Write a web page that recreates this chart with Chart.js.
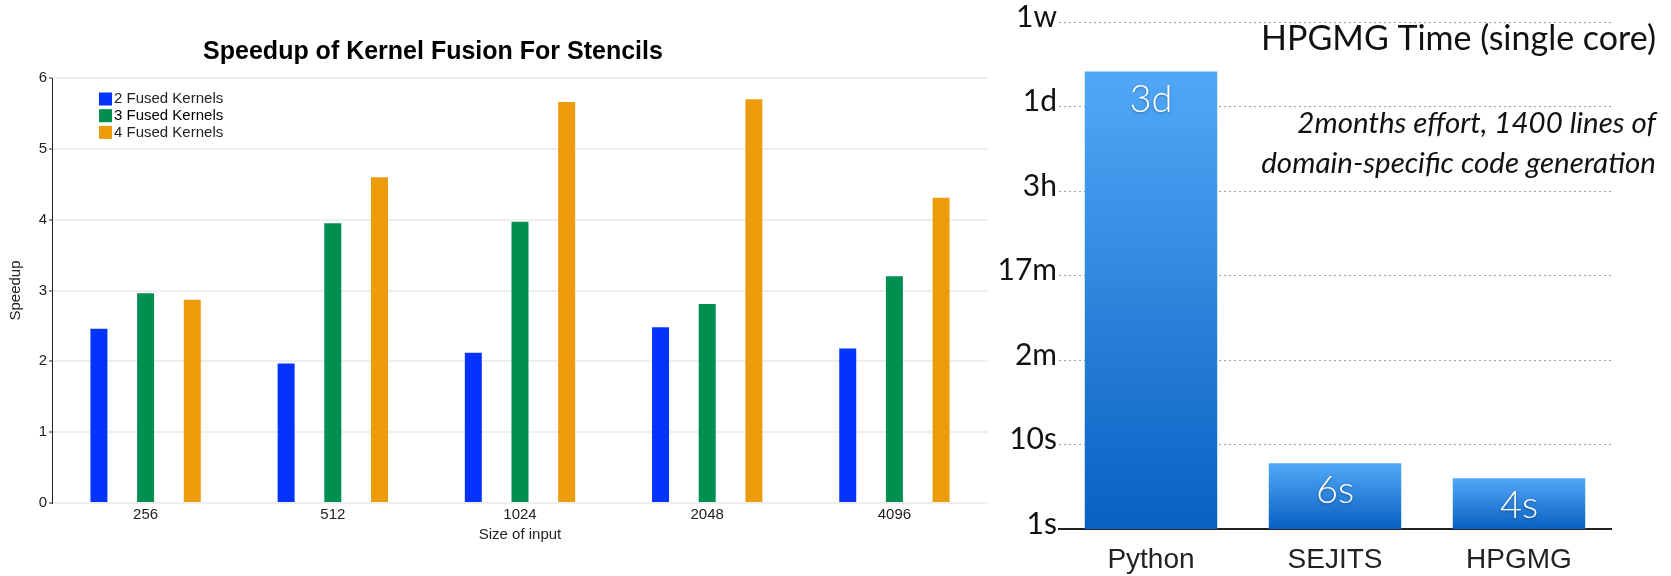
<!DOCTYPE html>
<html>
<head>
<meta charset="utf-8">
<script src="https://cdn.jsdelivr.net/npm/chart.js@4/dist/chart.umd.min.js"></script>
<style>
  body { margin: 0; width: 1671px; height: 576px; background: #fff; overflow: hidden; }
  #izq { position: absolute; left: 0; top: 0; }
  #der { position: absolute; left: 1000px; top: 0; }
</style>
</head>
<body>
<canvas id="izq" width="1000" height="576"></canvas>
<canvas id="der" width="671" height="576"></canvas>
<script>
// speedup por tamaño de entrada
const tamanos = ['256', '512', '1024', '2048', '4096'];
const fusion2 = [2.46, 1.97, 2.12, 2.48, 2.18];
const fusion3 = [2.96, 3.95, 3.97, 2.81, 3.20];
const fusion4 = [2.87, 4.60, 5.66, 5.70, 4.31];
const nombresSeries = ['2 Fused Kernels', '3 Fused Kernels', '4 Fused Kernels'];
const coloresSeries = ['#0433ff', '#008f51', '#ec9b0a'];

// tiempo HPGMG en segundos (escala log)
const implementaciones = ['Python', 'SEJITS', 'HPGMG'];
const segundos = [259200, 6, 4]; // 3d, 6s, 4s
const etiquetasValor = ['3d', '6s', '4s'];
const marcasSeg = [1, 10, 100, 1000, 10000, 100000, 1000000];
const marcasTexto = ['1s', '10s', '2m', '17m', '3h', '1d', '1w'];

const sans = '"Liberation Sans", Arial, sans-serif';
Chart.defaults.font.family = sans;

// titulo (no centrado en el canvas) y leyenda dentro del area del grafico
const leyendaDentro = {
  id: 'leyendaDentro',
  afterDatasetsDraw(chart) {
    const {ctx, chartArea} = chart;
    ctx.save();
    ctx.font = 'bold 25px ' + sans;
    ctx.textAlign = 'center';
    ctx.textBaseline = 'middle';
    ctx.fillStyle = '#000';
    ctx.fillText('Speedup of Kernel Fusion For Stencils', chartArea.left + 381, chartArea.top - 26);

    ctx.font = '15px ' + sans;
    ctx.textAlign = 'left';
    chart.data.datasets.forEach((ds, i) => {
      const x = chartArea.left + 47;
      const y = chartArea.top + 21 + i * 16.7;
      ctx.fillStyle = ds.backgroundColor;
      ctx.fillRect(x, y - 6.5, 13, 13);
      ctx.fillStyle = i === 1 ? '#000' : '#222';
      ctx.fillText(ds.label, x + 15, y);
    });
    ctx.restore();
  }
};

new Chart(document.getElementById('izq'), {
  type: 'bar',
  data: {
    labels: tamanos,
    datasets: [fusion2, fusion3, fusion4].map((d, i) => ({
      label: nombresSeries[i],
      data: d,
      backgroundColor: coloresSeries[i],
      categoryPercentage: 0.748,
      barPercentage: 0.364
    }))
  },
  options: {
    responsive: false,
    animation: false,
    layout: { padding: { top: 78, right: 12 } },
    plugins: {
      legend: { display: false },
      tooltip: { enabled: false }
    },
    scales: {
      x: {
        grid: { display: false, drawTicks: false },
        border: { display: false },
        ticks: { color: '#222', font: { size: 15 }, padding: 3 },
        title: { display: true, text: 'Size of input', color: '#222', font: { size: 15 }, padding: { top: 0, bottom: 32 } },
        afterFit: s => { s.height = 73; }
      },
      y: {
        min: 0,
        max: 6,
        ticks: { stepSize: 1, color: '#222', font: { size: 15 }, padding: 2 },
        grid: { color: '#eeeeee', lineWidth: 2, tickColor: '#222', tickLength: 3, tickWidth: 1 },
        border: { color: '#222', width: 1 },
        title: { display: true, text: 'Speedup', color: '#222', font: { size: 15 }, padding: { top: 7 } },
        afterFit: s => { s.width = 52; }
      }
    }
  },
  plugins: [leyendaDentro]
});

// degradado vertical por barra
function degradado(c) {
  const chart = c.chart;
  const area = chart.chartArea;
  if (!area || c.raw == null) return '#3b8fe8';
  const y = chart.scales.y.getPixelForValue(c.raw);
  const g = chart.ctx.createLinearGradient(0, y, 0, area.bottom);
  g.addColorStop(0, '#52a8f7');
  g.addColorStop(1, '#0860c2');
  return g;
}

// etiquetas de valor y textos del grafico de tiempos
const textosTiempo = {
  id: 'textosTiempo',
  afterDatasetsDraw(chart) {
    const {ctx, chartArea} = chart;
    const meta = chart.getDatasetMeta(0);
    ctx.save();
    ctx.font = '300 38px Lato, ' + sans;
    ctx.textAlign = 'center';
    ctx.textBaseline = 'middle';
    ctx.fillStyle = '#fff';
    ctx.shadowColor = 'rgba(0,0,0,0.35)';
    ctx.shadowBlur = 3;
    ctx.shadowOffsetY = 1;
    meta.data.forEach((bar, i) => {
      ctx.fillText(etiquetasValor[i], bar.x, bar.y + 28);
    });
    ctx.restore();

    ctx.save();
    const xd = chartArea.right + 45;
    ctx.textAlign = 'right';
    ctx.textBaseline = 'alphabetic';
    ctx.fillStyle = '#111';
    ctx.font = '34px Lato, ' + sans;
    ctx.fillText('HPGMG Time (single core)', xd, 50);
    ctx.font = 'italic 29.5px Lato, ' + sans;
    ctx.fillText('2months effort, 1400 lines of', xd, 133);
    ctx.fillText('domain-specific code generation', xd, 173);
    ctx.restore();
  }
};

new Chart(document.getElementById('der'), {
  type: 'bar',
  data: {
    labels: implementaciones,
    datasets: [{
      data: segundos,
      backgroundColor: degradado,
      barPercentage: 0.72,
      categoryPercentage: 1
    }]
  },
  options: {
    responsive: false,
    animation: false,
    layout: { padding: { top: 22, right: 60 } },
    plugins: { legend: { display: false }, tooltip: { enabled: false } },
    scales: {
      x: {
        grid: { display: false, drawTicks: false },
        border: { color: '#222', width: 2 },
        ticks: { color: '#222', font: { family: sans, size: 28 }, padding: 14 },
        afterFit: s => { s.height = 47; }
      },
      y: {
        type: 'logarithmic',
        min: 1,
        max: 1000000,
        afterBuildTicks: s => { s.ticks = marcasSeg.map(v => ({ value: v })); },
        ticks: {
          callback: v => marcasTexto[marcasSeg.indexOf(v)],
          color: '#111',
          font: { family: 'Lato, ' + sans, size: 30 },
          padding: 2,
          labelOffset: -5
        },
        grid: { color: '#a0a0a0', lineWidth: 1, drawTicks: false },
        border: { display: false, dash: [2, 3] },
        afterFit: s => { s.width = 59; }
      }
    }
  },
  plugins: [textosTiempo]
});
</script>
</body>
</html>
